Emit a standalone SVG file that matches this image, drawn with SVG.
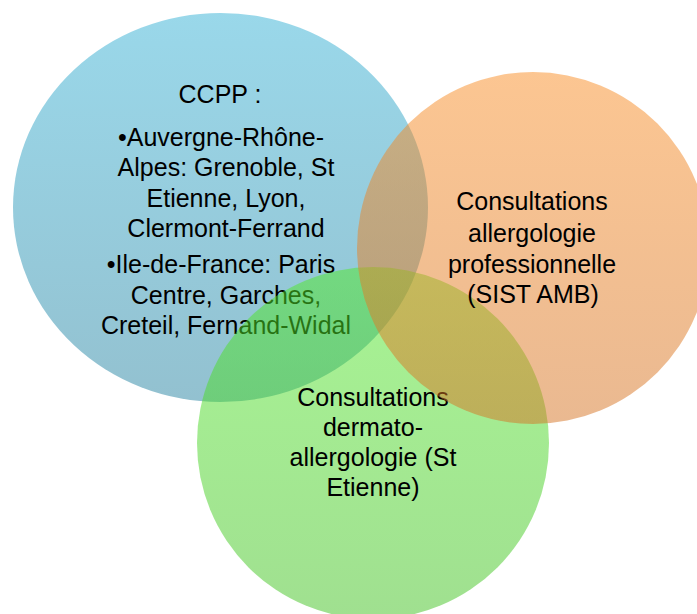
<svg xmlns="http://www.w3.org/2000/svg" width="697" height="614" viewBox="0 0 697 614">
<defs>
<linearGradient id="gBlue" x1="0" y1="0" x2="0" y2="1">
<stop offset="0" stop-color="#35B1D5"/>
<stop offset="1" stop-color="#2783A1"/>
</linearGradient>
<linearGradient id="gOrange" x1="0" y1="0" x2="0" y2="1">
<stop offset="0" stop-color="#F98D25"/>
<stop offset="1" stop-color="#D57323"/>
</linearGradient>
<linearGradient id="gGreen" x1="0" y1="0" x2="0" y2="1">
<stop offset="0" stop-color="#51E929"/>
<stop offset="1" stop-color="#41C121"/>
</linearGradient>
</defs>
<style>
.c{fill-opacity:0.5}
.t{font-family:"Liberation Sans",Arial,sans-serif;font-size:25px;fill:#000;text-anchor:middle}
</style>
<rect width="697" height="614" fill="#ffffff"/>
<g id="connectors"></g>
<g id="ccpp">
<ellipse class="c" cx="220.5" cy="207.5" rx="207.5" ry="194.5" fill="url(#gBlue)"/>
<text class="t" x="220" y="103">CCPP :</text>
<text class="t" x="221" y="146">•Auvergne-Rhône-</text>
<text class="t" x="226" y="176">Alpes: Grenoble, St</text>
<text class="t" x="226" y="207">Etienne, Lyon,</text>
<text class="t" x="226" y="237">Clermont-Ferrand</text>
<text class="t" x="221" y="273">•Ile-de-France: Paris</text>
<text class="t" x="226" y="304">Centre, Garches,</text>
<text class="t" x="226" y="334">Creteil, Fernand-Widal</text>
</g>
<g id="dermato">
<circle class="c" cx="373" cy="443" r="176" fill="url(#gGreen)"/>
<text class="t" x="373" y="406">Consultations</text>
<text class="t" x="373" y="436">dermato-</text>
<text class="t" x="373" y="466">allergologie (St</text>
<text class="t" x="373" y="496">Etienne)</text>
</g>
<g id="professionnelle">
<circle class="c" cx="533" cy="248" r="176" fill="url(#gOrange)"/>
<text class="t" x="532" y="210">Consultations</text>
<text class="t" x="532" y="242">allergologie</text>
<text class="t" x="532" y="273">professionnelle</text>
<text class="t" x="533" y="303">(SIST AMB)</text>
</g>
</svg>
